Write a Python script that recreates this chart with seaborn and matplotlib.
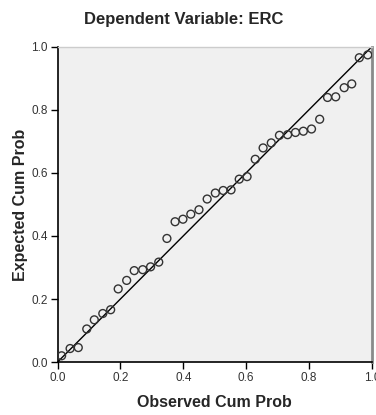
import numpy as np
import pandas as pd
import matplotlib
matplotlib.use("Agg")
import matplotlib.pyplot as plt
import seaborn as sns

# P-P plot of regression standardized residuals
observed_cum_prob = [
    0.013, 0.040, 0.066, 0.093, 0.117, 0.144, 0.169, 0.193, 0.220, 0.244,
    0.271, 0.296, 0.322, 0.348, 0.374, 0.399, 0.424, 0.450, 0.476, 0.502,
    0.527, 0.552, 0.578, 0.603, 0.629, 0.654, 0.680, 0.706, 0.732, 0.757,
    0.782, 0.808, 0.834, 0.859, 0.885, 0.912, 0.936, 0.960, 0.987,
]
expected_cum_prob = [
    0.020, 0.043, 0.046, 0.105, 0.134, 0.154, 0.166, 0.232, 0.259, 0.290,
    0.293, 0.302, 0.317, 0.392, 0.445, 0.453, 0.469, 0.483, 0.517, 0.536,
    0.544, 0.546, 0.580, 0.588, 0.643, 0.679, 0.695, 0.719, 0.721, 0.728,
    0.732, 0.739, 0.770, 0.839, 0.841, 0.870, 0.882, 0.965, 0.974,
]
ref_line = [0.0, 1.0]
tick_values = [0.0, 0.2, 0.4, 0.6, 0.8, 1.0]
tick_labels = ["0.0", "0.2", "0.4", "0.6", "0.8", "1.0"]

sns.set_style("white")
plt.rcParams["font.family"] = ["Liberation Sans", "DejaVu Sans"]

df = pd.DataFrame({"observed": observed_cum_prob, "expected": expected_cum_prob})

fig = plt.figure(figsize=(3.76, 4.15), dpi=100)
ax = fig.add_axes([0.153, 0.1275, 0.836, 0.76])
ax.set_facecolor("#f0f0f0")

sns.lineplot(x=ref_line, y=ref_line, ax=ax, color="black", linewidth=1.0, zorder=2)
sns.scatterplot(data=df, x="observed", y="expected", ax=ax, marker="o", s=32,
                facecolor="none", edgecolor="#333333", linewidth=1.0, zorder=3)

ax.set_xlim(0, 1)
ax.set_ylim(0, 1)
ax.set_xticks(tick_values)
ax.set_xticklabels(tick_labels)
ax.set_yticks(tick_values)
ax.set_yticklabels(tick_labels)
ax.tick_params(axis="both", direction="out", length=5, width=1, color="black",
               labelsize=8.5, labelcolor="#333333", pad=2, bottom=True, left=True)

for side in ["left", "bottom"]:
    ax.spines[side].set_color("black")
    ax.spines[side].set_linewidth(1.2)
ax.spines["top"].set_color("#cccccc")
ax.spines["top"].set_linewidth(1.0)
ax.spines["right"].set_color("#8a8a8a")
ax.spines["right"].set_linewidth(2.0)

ax.set_xlabel("Observed Cum Prob", fontsize=11.5, fontweight="bold", va="center")
ax.set_ylabel("Expected Cum Prob", fontsize=11.5, fontweight="bold", va="center")
ax.xaxis.set_label_coords(0.5, -0.129)
ax.yaxis.set_label_coords(-0.119, 0.5)

fig.text(0.489, 0.952, "Dependent Variable: ERC", ha="center", va="center",
         fontsize=12, fontweight="bold")

fig.savefig("out.png", dpi=100)
